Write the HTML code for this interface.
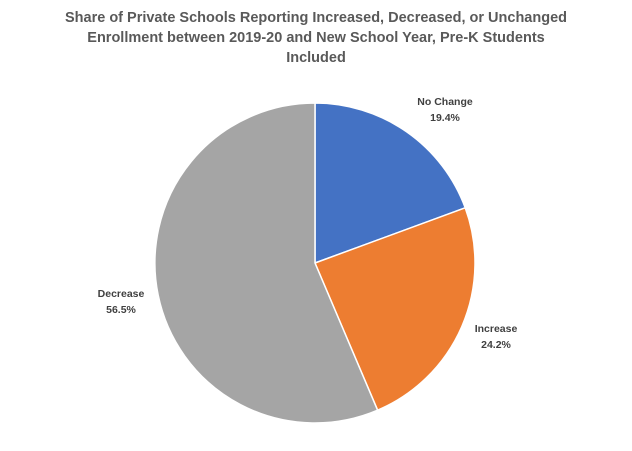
<!DOCTYPE html>
<html><head><meta charset="utf-8"><style>
html,body{margin:0;padding:0;background:#fff;}
svg{display:block;}
text{font-family:"Liberation Sans",Arial,sans-serif;}
</style></head><body>
<svg width="632" height="451" viewBox="0 0 632 451" xmlns="http://www.w3.org/2000/svg">
<rect width="632" height="451" fill="#fff"/>
<g font-size="14.5" font-weight="bold" fill="#595959" text-anchor="middle">
<text x="316" y="22">Share of Private Schools Reporting Increased, Decreased, or Unchanged</text>
<text x="316" y="42">Enrollment between 2019-20 and New School Year, Pre-K Students</text>
<text x="316" y="62">Included</text>
</g>
<g stroke="#fff" stroke-width="1.5" stroke-linejoin="round">
<path d="M315,263 L315,103 A160,160 0 0 1 465.2,207.8 Z" fill="#4472C4"/>
<path d="M315,263 L465.2,207.8 A160,160 0 0 1 377.6,410.2 Z" fill="#ED7D31"/>
<path d="M315,263 L377.6,410.2 A160,160 0 1 1 315,103 Z" fill="#A5A5A5"/>
</g>
<g font-size="10.5" font-weight="bold" fill="#404040" text-anchor="middle">
<text x="445" y="105">No Change</text>
<text x="445" y="121">19.4%</text>
<text x="496" y="332">Increase</text>
<text x="496" y="348">24.2%</text>
<text x="121" y="297">Decrease</text>
<text x="121" y="313">56.5%</text>
</g>
</svg>
</body></html>
